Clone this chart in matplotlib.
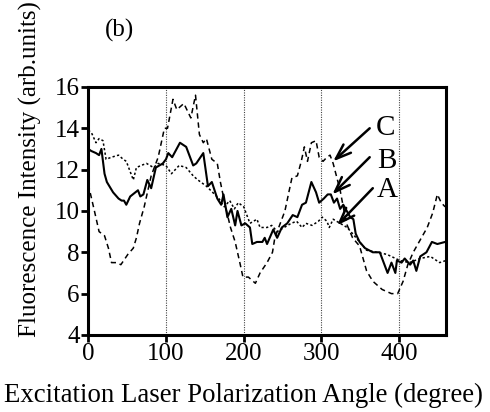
import numpy as np
import matplotlib.pyplot as plt

# curve A (fine dotted)
angle_a = [0, 4, 10, 14, 19, 23, 30, 39, 45, 49,
           58, 62, 68, 75, 84, 90, 100, 107, 117, 126,
           135, 141, 152, 160, 168, 175, 182, 188, 193, 200,
           208, 217, 221, 230, 236, 243, 252, 261, 268, 275,
           280, 288, 296, 301, 307, 310, 315, 324, 333, 340,
           349, 358, 371, 384, 401, 413, 427, 440, 452, 460]
int_a = [13.9, 13.8, 13.3, 13.5, 13.4, 12.5, 12.6, 12.7, 12.5, 12.4,
         11.5, 12.1, 12.2, 12.3, 12.1, 12.3, 12.2, 11.8, 12.2, 12.1,
         11.7, 11.5, 11.2, 10.9, 10.6, 10.2, 10.5, 10.1, 10.4, 10.2,
         9.4, 9.6, 9.2, 9.2, 9.3, 9.0, 9.2, 9.4, 9.5, 9.2,
         9.4, 9.3, 9.5, 9.7, 9.5, 9.2, 9.6, 9.4, 9.2, 8.9,
         8.5, 8.1, 8.0, 7.9, 7.6, 7.5, 7.7, 7.8, 7.5, 7.6]

# curve B (solid)
angle_b = [0, 4, 10, 14, 17, 21, 24, 32, 39, 43,
           46, 49, 54, 64, 67, 71, 76, 81, 87, 96,
           100, 103, 108, 118, 126, 135, 139, 148, 154, 159,
           166, 171, 174, 179, 184, 189, 192, 197, 202, 208,
           211, 217, 224, 227, 230, 238, 243, 249, 256, 263,
           269, 275, 280, 287, 293, 297, 303, 308, 312, 316,
           320, 324, 328, 337, 341, 344, 349, 356, 366, 375,
           382, 385, 390, 395, 397, 403, 407, 414, 418, 422,
           427, 435, 442, 449, 459]
int_b = [13.0, 12.9, 12.8, 12.7, 13.0, 11.8, 11.4, 10.9, 10.6, 10.5,
         10.5, 10.3, 10.7, 11.0, 10.7, 10.8, 11.5, 11.1, 12.1, 12.3,
         12.5, 12.8, 12.6, 13.3, 13.1, 12.2, 12.3, 12.8, 11.2, 11.4,
         10.6, 10.3, 10.8, 9.7, 10.1, 9.3, 10.0, 9.3, 9.4, 9.2,
         8.4, 8.5, 8.5, 8.7, 8.4, 9.1, 8.7, 9.2, 9.4, 9.8,
         9.7, 10.3, 10.4, 11.4, 10.9, 10.4, 10.6, 10.8, 10.8, 10.4,
         10.6, 10.1, 10.3, 9.7, 9.6, 8.9, 8.5, 8.2, 8.0, 8.0,
         7.3, 7.0, 7.5, 7.0, 7.6, 7.5, 7.7, 7.4, 7.6, 7.1,
         7.8, 8.0, 8.5, 8.4, 8.5]

# curve C (dashed)
angle_c = [0, 8, 14, 21, 26, 30, 36, 42, 51, 58,
           62, 66, 72, 81, 90, 98, 102, 109, 114, 123,
           132, 138, 143, 148, 152, 159, 166, 170, 176, 183,
           189, 195, 199, 206, 215, 221, 230, 237, 240, 247,
           253, 258, 262, 269, 274, 278, 282, 287, 293, 297,
           302, 307, 311, 315, 324, 332, 340, 349, 358, 366,
           378, 390, 398, 405, 411, 418, 427, 436, 443, 449,
           454, 459]
int_c = [11.3, 10.0, 9.0, 8.8, 8.2, 7.5, 7.5, 7.4, 7.9, 8.2,
         8.7, 9.4, 10.2, 11.7, 12.6, 14.0, 14.0, 15.4, 14.9, 15.2,
         14.5, 15.6, 13.7, 13.3, 13.5, 12.5, 12.3, 11.4, 10.3, 9.2,
         8.5, 7.5, 6.8, 6.8, 6.5, 7.0, 7.5, 8.0, 8.7, 9.4,
         10.0, 10.9, 11.6, 11.7, 12.4, 13.1, 12.4, 13.3, 13.4, 12.6,
         12.4, 12.6, 12.7, 12.3, 11.0, 9.4, 8.7, 8.3, 7.1, 6.6,
         6.2, 6.0, 6.0, 6.6, 7.4, 8.0, 8.6, 9.2, 9.9, 10.8,
         10.4, 10.2]

labels = ['A', 'B', 'C']
label_pos = [(371, 11.0), (371, 12.4), (370, 14.0)]
arrow_tail = [(366, 11.1), (362, 12.6), (362, 14.0)]
arrow_tip = [(320, 9.3), (314, 10.8), (315, 12.4)]

plt.rcParams['font.family'] = ['Liberation Serif', 'DejaVu Serif']

fig = plt.figure(figsize=(4.9, 4.12), dpi=100)
ax = fig.add_axes([0.18, 0.187, 0.73, 0.602])

for v in [100, 200, 300, 400]:
    ax.axvline(v, color='#444444', lw=0.8, ls=(0, (1, 1.2)), zorder=1)

ax.plot(angle_a, int_a, color='black', lw=1.1, ls=(0, (1.5, 1.5)), zorder=3)
ax.plot(angle_b, int_b, color='black', lw=1.5, ls='-', zorder=3)
ax.plot(angle_c, int_c, color='black', lw=1.1, ls=(0, (3.5, 2.5)), zorder=3)

for lab, pos, tail, tip in zip(labels, label_pos, arrow_tail, arrow_tip):
    ax.annotate('', xy=tip, xytext=tail,
                arrowprops=dict(arrowstyle='->,head_length=1.1,head_width=0.4',
                                color='black', lw=1.8, shrinkA=0, shrinkB=0))
    ax.text(pos[0], pos[1], lab, fontsize=21, ha='left', va='center')

ax.set_xlim(0, 460)
ax.set_ylim(4, 16)
ax.set_xticks([0, 100, 200, 300, 400])
ax.set_yticks([4, 6, 8, 10, 12, 14, 16])
ax.tick_params(direction='out', length=5, width=2, labelsize=18, pad=1)
for s in ax.spines.values():
    s.set_linewidth(2.2)

fig.text(0.497, 0.04, 'Excitation Laser Polarization Angle (degree)',
         fontsize=19.3, ha='center', va='center')
fig.text(0.062, 0.59, 'Fluorescence Intensity (arb.units)',
         fontsize=18, rotation=90, ha='center', va='center')
fig.text(0.214, 0.925, '(b)', fontsize=18, va='center')

fig.savefig('out.png', dpi=100)
